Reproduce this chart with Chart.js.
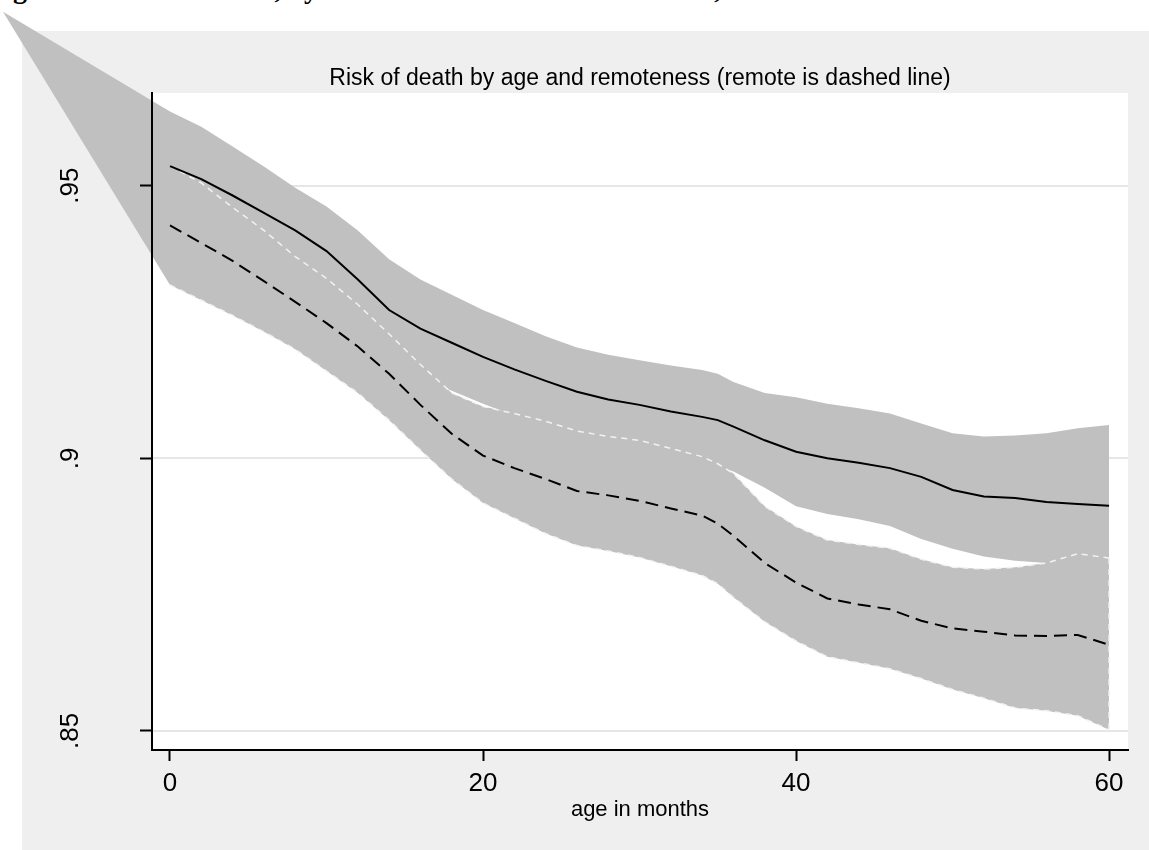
<!DOCTYPE html>
<html lang="en">
<head>
<meta charset="UTF-8">
<title>Risk of death by age and remoteness</title>
<style>
  body { margin: 0; background: #fff; overflow: hidden; }
  #wrap { position: relative; width: 1149px; height: 850px; overflow: hidden; }
  #caption { position: absolute; left: -12px; top: -27px; font: bold 28px "Liberation Serif", "Times New Roman", serif; white-space: nowrap; color: #000; }
  canvas { position: absolute; left: 0; top: 0; }
</style>
</head>
<body>
<div id="wrap">
  <div id="caption">Figure 4: Child survival, by remoteness and household assets, with 95% CI</div>
  <canvas id="riskChart" width="1149" height="850"></canvas>
</div>
<script src="https://cdn.jsdelivr.net/npm/chart.js"></script>
<script>
// age in months for every series
const months = [0, 2, 4, 6, 8, 10, 12, 14, 16, 18, 20, 22, 24, 26, 28, 30, 32, 34, 35, 36, 38, 40, 42, 44, 46, 48, 50, 52, 54, 56, 58, 60];

// not remote (solid line) and its confidence band
const solid = [.9536, .9512, .9482, .9450, .9418, .9380, .9328, .9272, .9238, .9212, .9186, .9163, .9142, .9122, .9108, .9098,
               .9086, .9076, .9070, .9058, .9033, .9012, .9000, .8992, .8982, .8966, .8942, .8930, .8927, .8920, .8916, .8913];
const solidUpper = [.9636, .9608, .9572, .9535, .9496, .9462, .9418, .9365, .9328, .9300, .9272, .9248, .9224, .9203, .9190, .9180,
                    .9170, .9162, .9155, .9140, .9120, .9112, .9100, .9092, .9082, .9064, .9046, .9040, .9042, .9046, .9055, .9061];
const solidLower = [.9436, .9416, .9392, .9365, .9340, .9298, .9238, .9180, .9148, .9124, .9100, .9078, .9060, .9041, .9026, .9016,
                    .9002, .8990, .8985, .8976, .8946, .8912, .8898, .8888, .8876, .8852, .8834, .8820, .8812, .8808, .8808, .8810];

// remote (dashed line) and its confidence band
const remote = [.9427, .9395, .9362, .9325, .9287, .9248, .9205, .9155, .9098, .9045, .9005, .8982, .8962, .8940, .8932, .8922,
                .8908, .8895, .8880, .8858, .8808, .8772, .8743, .8732, .8723, .8702, .8688, .8682, .8675, .8674, .8676, .8658];
const remoteUpper = [.9536, .9505, .9460, .9418, .9370, .9330, .9282, .9228, .9172, .9120, .9095, .9082, .9068, .9050, .9040, .9033,
                     .9018, .9003, .8990, .8972, .8912, .8875, .8850, .8842, .8835, .8815, .8800, .8797, .8800, .8808, .8825, .8817];
const remoteLower = [.9318, .9290, .9262, .9232, .9200, .9160, .9120, .9070, .9015, .8962, .8918, .8890, .8862, .8840, .8830, .8818,
                     .8802, .8785, .8770, .8745, .8700, .8665, .8636, .8625, .8614, .8596, .8576, .8560, .8542, .8537, .8528, .8502];

// stray corner of the band polygon that runs off the plot (top left)
const apexMonth = -10.67;
const apexValue = 0.9819;

const xTicks = [0, 20, 40, 60];
const yTicks = [.85, .9, .95];

const bandGray = '#c0c0c0';
const fontFamily = "'Liberation Sans', Arial, sans-serif";

function pts(arr) {
    return months.map((m, i) => ({ x: m, y: arr[i] }));
}
const last = months.length - 1;

// light panel + white plot region
const backgroundPlugin = {
    id: 'panelBackground',
    beforeDraw(chart) {
        const { ctx, chartArea } = chart;
        ctx.save();
        ctx.fillStyle = '#efefef';
        ctx.fillRect(22, 31, chart.width - 22, chart.height - 31);
        ctx.fillStyle = '#ffffff';
        ctx.fillRect(chartArea.left, chartArea.top, chartArea.right - chartArea.left, chartArea.bottom - chartArea.top);
        ctx.restore();
    }
};

// the band's first vertex lies outside the plot, draw that wedge unclipped
const apexPlugin = {
    id: 'bandApex',
    beforeDatasetsDraw(chart) {
        const { ctx } = chart;
        const x = chart.scales.x, y = chart.scales.y;
        ctx.save();
        ctx.fillStyle = bandGray;
        ctx.beginPath();
        ctx.moveTo(x.getPixelForValue(apexMonth), y.getPixelForValue(apexValue));
        ctx.lineTo(x.getPixelForValue(months[0]), y.getPixelForValue(solidUpper[0]));
        ctx.lineTo(x.getPixelForValue(months[0]), y.getPixelForValue(remoteLower[0]));
        ctx.closePath();
        ctx.fill();
        ctx.restore();
    }
};

const lineBase = { pointRadius: 0, tension: 0, fill: false };
const outline = { borderColor: '#f2f2f2', borderWidth: 1.5, borderDash: [6, 5] };

const ctx = document.getElementById('riskChart').getContext('2d');
const chart = new Chart(ctx, {
    type: 'line',
    data: {
        datasets: [
            { ...lineBase, label: 'not remote', data: pts(solid), borderColor: '#000', borderWidth: 2, order: 1 },
            { ...lineBase, label: 'remote', data: pts(remote), borderColor: '#000', borderWidth: 2, borderDash: [13, 7], order: 1 },
            { ...lineBase, ...outline, label: 'remote upper', data: pts(remoteUpper), fill: '+1', backgroundColor: bandGray, order: 2 },
            { ...lineBase, ...outline, label: 'remote lower', data: pts(remoteLower), order: 2 },
            { ...lineBase, ...outline, label: 'remote edge',
              data: [{ x: months[last], y: remoteUpper[last] }, { x: months[last], y: remoteLower[last] }], order: 2 },
            { ...lineBase, label: 'not remote upper', data: pts(solidUpper), borderWidth: 0, fill: '+1', backgroundColor: bandGray, order: 3 },
            { ...lineBase, label: 'not remote lower', data: pts(solidLower), borderWidth: 0, order: 3 }
        ]
    },
    options: {
        responsive: false,
        animation: false,
        devicePixelRatio: 1,
        layout: { padding: { left: 0, right: 21, top: 0, bottom: 0 } },
        scales: {
            x: {
                type: 'linear',
                min: -1.15,
                max: 61.21,
                afterBuildTicks: (s) => { s.ticks = xTicks.map(v => ({ value: v })); },
                afterFit: (s) => { s.height = 100; },
                ticks: { color: '#000', font: { family: fontFamily, size: 26 }, padding: 7, maxRotation: 0, autoSkip: false },
                grid: { drawOnChartArea: false, drawTicks: true, tickLength: 11, tickColor: '#000', tickWidth: 2, z: 1 },
                border: { color: '#000', width: 2, z: 1 },
                title: { display: true, text: 'age in months', color: '#000',
                         font: { family: fontFamily, size: 22 }, padding: { top: 0, bottom: 27 } }
            },
            y: {
                type: 'linear',
                position: 'left',
                min: 0.8465,
                max: 0.967,
                afterBuildTicks: (s) => { s.ticks = yTicks.map(v => ({ value: v })); },
                afterFit: (s) => { s.width = 152; },
                ticks: {
                    color: '#000', font: { family: fontFamily, size: 26 },
                    minRotation: 90, maxRotation: 90, crossAlign: 'center', padding: 51,
                    callback: (v) => String(v).replace(/^0\./, '.')
                },
                grid: { drawOnChartArea: false, drawTicks: true, tickLength: 12, tickColor: '#000', tickWidth: 2, z: 1 },
                border: { color: '#000', width: 2, z: 1 }
            },
            yGrid: {
                type: 'linear',
                position: 'left',
                min: 0.8465,
                max: 0.967,
                afterBuildTicks: (s) => { s.ticks = yTicks.map(v => ({ value: v })); },
                afterFit: (s) => { s.width = 0; },
                ticks: { display: false },
                grid: { color: '#e6e6e6', lineWidth: 2, drawTicks: false },
                border: { display: false }
            }
        },
        plugins: {
            legend: { display: false },
            tooltip: { enabled: false },
            filler: { drawTime: 'beforeDatasetsDraw' },
            title: {
                display: true,
                text: 'Risk of death by age and remoteness (remote is dashed line)',
                fullSize: false,
                color: '#000',
                font: { family: fontFamily, size: 23, weight: 'normal' },
                padding: { top: 65, bottom: 0.4 }
            }
        }
    },
    plugins: [backgroundPlugin, apexPlugin]
});
</script>
</body>
</html>
